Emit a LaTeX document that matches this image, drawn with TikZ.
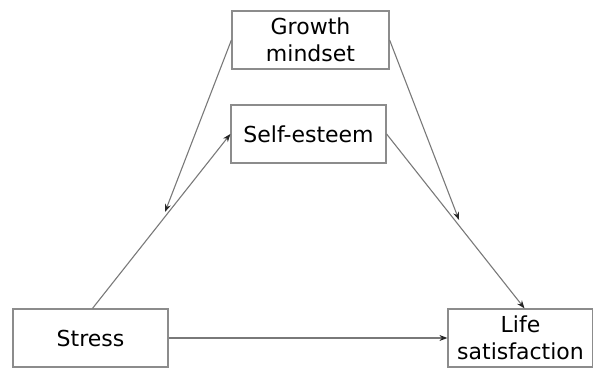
\documentclass[tikz,border=0pt]{standalone}
\usepackage{fontspec}
\setmainfont{DejaVu Sans}
\usetikzlibrary{arrows.meta}
\tikzset{
  caja/.style={draw=gray!90, fill=white, line width=0.6pt, inner sep=0pt,
    minimum height=29pt, align=center, font=\fontsize{11}{13.5}\selectfont},
  flecha/.style={-{Stealth[length=4pt,width=3pt,color=black!85]}, gray!95!black, line width=0.55pt}
}
\begin{document}
\begin{tikzpicture}[x=0.5pt,y=-0.5pt]
  % Marco
  \useasboundingbox (0,0) rectangle (593,368);
  % Variables
  \node[caja, minimum width=78.5pt] (growth) at (310.5,40) {Growth\\mindset};
  \node[caja, minimum width=77.5pt] (esteem) at (308.5,134) {Self-esteem};
  \node[caja, minimum width=77.5pt] (stress) at (90.5,338) {Stress};
  \node[caja, minimum width=72.5pt] (life) at (520.5,338) {Life\\satisfaction};
  % Puntos de moderacion
  \coordinate (modA) at (165,212);
  \coordinate (modB) at (459,220);
  % Caminos
  \draw[flecha] ([xshift=1pt]stress.north) -- (esteem.west);
  \draw[flecha] (esteem.east) -- ([xshift=2pt]life.north);
  \draw[flecha] (stress.east) -- (life.west);
  % Moderador
  \draw[flecha] (growth.west) -- (modA);
  \draw[flecha] (growth.east) -- (modB);
\end{tikzpicture}
\end{document}
